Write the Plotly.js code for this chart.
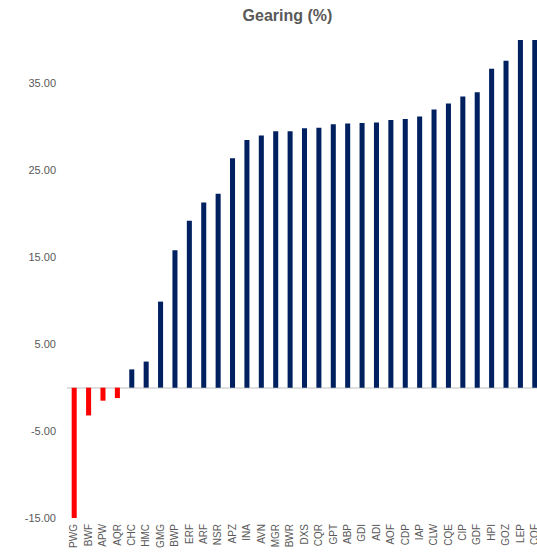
<!DOCTYPE html>
<html>
<head>
<meta charset="utf-8">
<script src="https://cdn.plot.ly/plotly-3.0.1.min.js"></script>
<style>
html, body { margin: 0; padding: 0; overflow: hidden; background: #ffffff; }
#chart { width: 575px; height: 555px; }
</style>
</head>
<body>
<div id="chart"></div>
<script>
var categories = ["PWG","BWF","APW","AQR","CHC","HMC","GMG","BWP","ERF","ARF","NSR","APZ","INA","AVN","MGR","BWR","DXS","CQR","GPT","ABP","GDI","ADI","AOF","CDP","IAP","CLW","CQE","CIP","GDF","HPI","GOZ","LEP","CQF"];
var gearing = [-15.2,-3.2,-1.5,-1.2,2.1,3.0,9.9,15.8,19.2,21.3,22.3,26.4,28.5,29.0,29.5,29.5,29.85,29.9,30.3,30.4,30.45,30.5,30.8,30.9,31.2,32.0,32.7,33.5,34.0,36.7,37.6,41.5,43.0];
var yTickVals = [-15, -5, 5, 15, 25, 35];
var yTickText = ["-15.00", "-5.00", "5.00", "15.00", "25.00", "35.00"];

var barColors = gearing.map(function (v) { return v < 0 ? "#ff0000" : "#002060"; });

var trace = {
  type: "bar",
  x: categories,
  y: gearing,
  marker: { color: barColors, line: { width: 0 } },
  hoverinfo: "x+y"
};

var layout = {
  width: 575,
  height: 555,
  margin: { l: 67, r: 33, t: 39.5, b: 37, pad: 0 },
  paper_bgcolor: "#ffffff",
  plot_bgcolor: "#ffffff",
  font: { family: "Liberation Sans, Arial, sans-serif", color: "#595959" },
  title: {
    text: "<b>Gearing (%)</b>",
    font: { family: "Liberation Sans, Arial, sans-serif", size: 16, color: "#595959" },
    x: 0.5,
    xref: "container",
    y: 0.972,
    yref: "container",
    yanchor: "middle"
  },
  bargap: 0.65,
  showlegend: false,
  xaxis: {
    type: "category",
    tickmode: "linear",
    dtick: 1,
    tickangle: -90,
    tickfont: { size: 10, color: "#595959" },
    showgrid: false,
    showline: false,
    zeroline: false,
    ticks: "",
    ticklen: 0,
    ticklabelstandoff: 3,
    automargin: false
  },
  yaxis: {
    range: [-15, 40],
    tickmode: "array",
    tickvals: yTickVals,
    ticktext: yTickText,
    tickfont: { size: 11, color: "#595959" },
    showgrid: false,
    showline: false,
    zeroline: true,
    zerolinecolor: "#e0e0e0",
    zerolinewidth: 2,
    ticks: "",
    ticklabelstandoff: 10,
    automargin: false
  }
};

Plotly.newPlot("chart", [trace], layout, { displayModeBar: false, staticPlot: true });
</script>
</body>
</html>
